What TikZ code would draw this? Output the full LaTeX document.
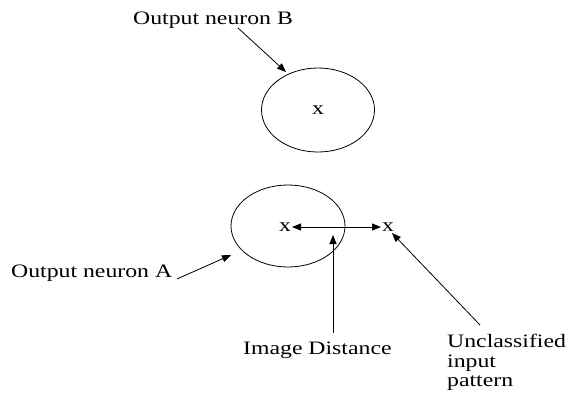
\documentclass[tikz,border=0pt]{standalone}
\usepackage{fontspec}
\setmainfont{Liberation Serif}[FakeStretch=1.25]
\usetikzlibrary{shapes.geometric,arrows.meta}
\begin{document}
\begin{tikzpicture}[x=1pt,y=-1pt,
  lbl/.style={font=\fontsize{19}{20}\selectfont, inner sep=0pt},
  xmark/.style={font=\fontsize{19}{20}\selectfont, inner sep=1pt},
  neuron/.style={draw, line width=0.8pt, ellipse, inner sep=0pt},
  link/.style={line width=0.8pt, -{Triangle[length=9pt,width=7pt]}},
  twoway/.style={line width=0.8pt, {Triangle[length=9pt,width=7pt]}-{Triangle[length=9pt,width=7pt]}}]
  \useasboundingbox (0,0) rectangle (572,394);

  % neurons
  \node[neuron, minimum width=113pt, minimum height=84pt] (nb) at (318,110) {};
  \node[neuron, minimum width=114pt, minimum height=82pt] (na) at (288,226) {};
  \node[xmark] (xb) at (318,110) {x};
  \node[xmark] (xa) at (285,227) {x};
  \node[xmark] (xp) at (388,227) {x};

  % labels
  \node[lbl, anchor=base west] (lb) at (133,24) {Output neuron B};
  \node[lbl, anchor=base west] (la) at (11,277) {Output neuron A};
  \node[lbl, anchor=base west] (ld) at (243,354) {Image Distance};
  \node[lbl, anchor=base west] (lu1) at (447,347) {Unclassified};
  \node[lbl, anchor=base west] (lu2) at (447,367) {input};
  \node[lbl, anchor=base west] (lu3) at (447,386) {pattern};

  % arrow tails and tips
  \coordinate (tb) at (238,28);
  \coordinate (hb) at (286,72);
  \coordinate (ta) at (177,279);
  \coordinate (ha) at (231,255);
  \coordinate (td) at (333,333);
  \coordinate (hd) at (333,235);
  \coordinate (tu) at (480,325);
  \coordinate (hu) at (392,233);
  \coordinate (da) at (292,227);
  \coordinate (dp) at (381,227);

  % connectors
  \draw[link] (tb) -- (hb);
  \draw[link] (ta) -- (ha);
  \draw[link] (td) -- (hd);
  \draw[link] (tu) -- (hu);
  \draw[twoway] (da) -- (dp);
\end{tikzpicture}
\end{document}
